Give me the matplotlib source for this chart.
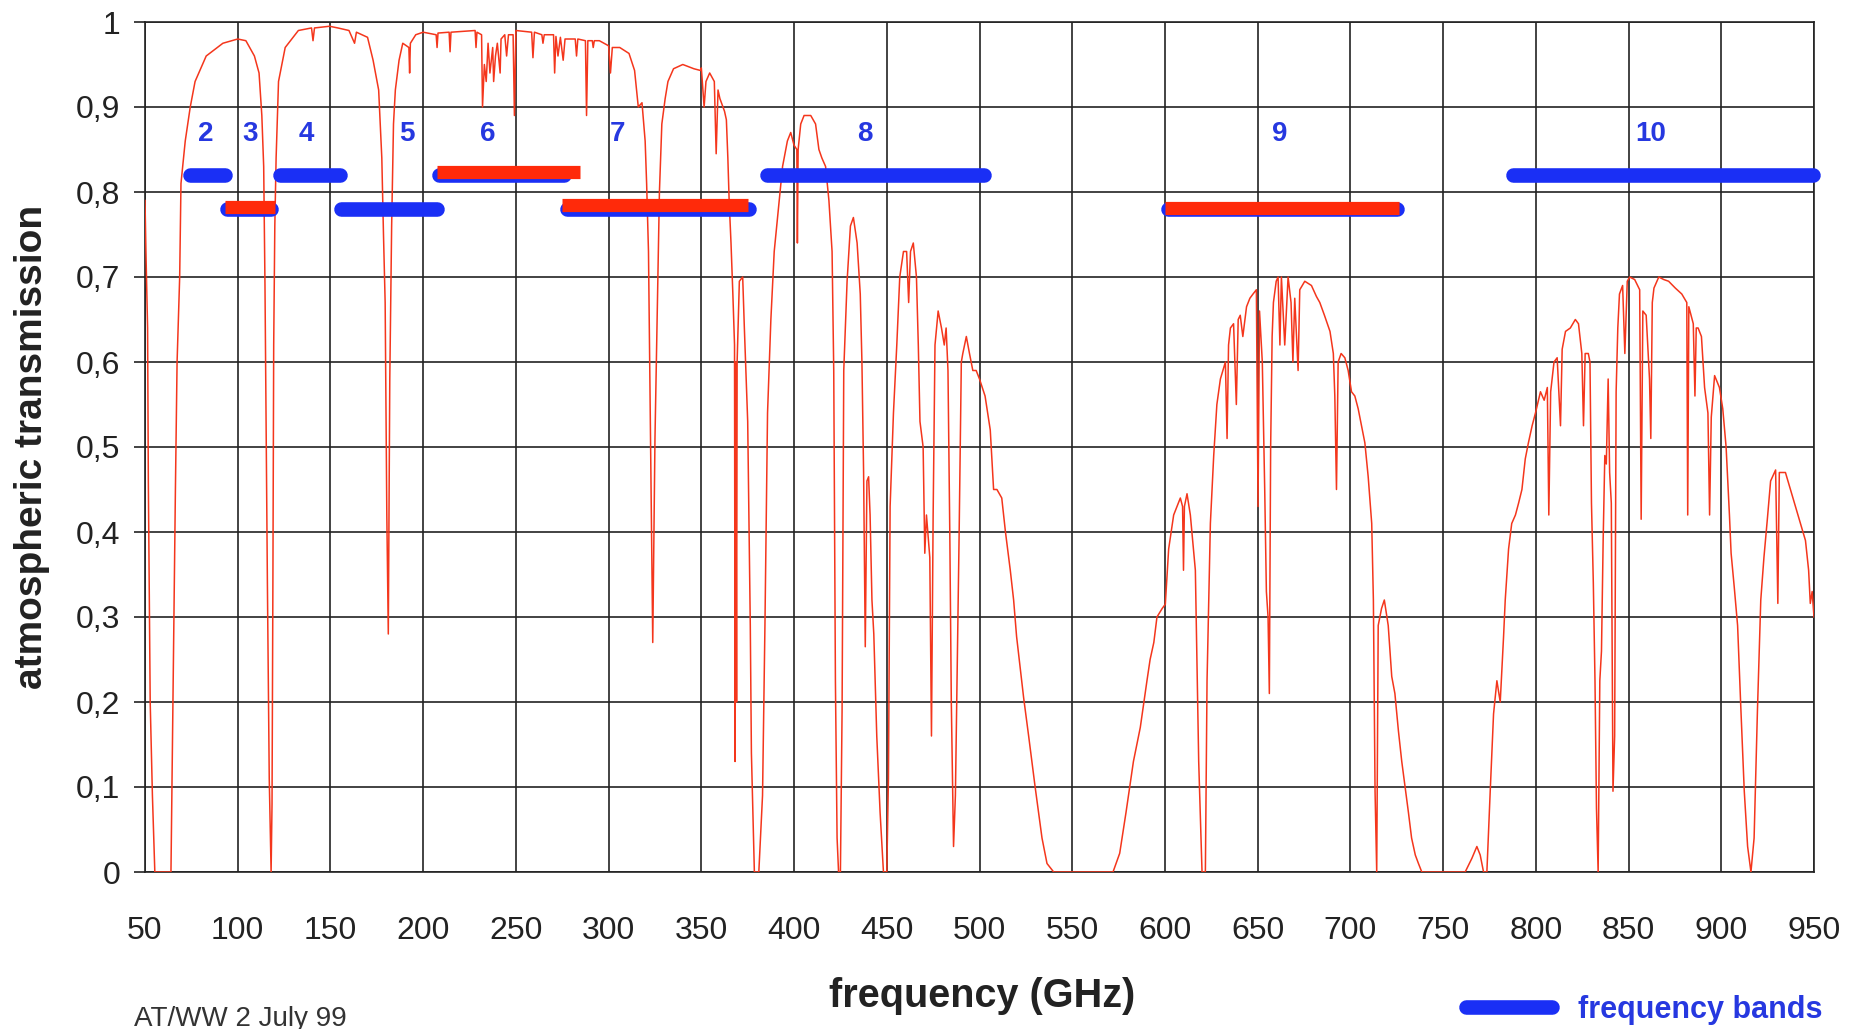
import matplotlib
matplotlib.use("Agg")
import matplotlib.pyplot as plt
from matplotlib.lines import Line2D

plt.rcParams['font.family'] = ['Liberation Sans', 'DejaVu Sans']

# atmospheric transmission curve (GHz, fraction)
freq = [
    50, 50.5, 51.4, 51.8, 52.8, 54.0, 55.3, 64.0, 65.2, 66.4, 67.3, 68.7, 69.4, 71.7,
    74.4, 77.0, 83.0, 92.0, 100, 104.4, 109, 111.5, 113, 114, 114.7, 116, 117, 118,
    118.5, 119, 119.4, 120, 120.7, 122, 125.6, 132.7, 139.8, 140.6, 141.4, 149.5, 154,
    160, 163, 164, 170, 173, 176, 177.7, 178.6, 179.5, 180.4, 181.2, 182, 183, 184,
    185, 187, 189, 192.3, 192.7, 193.1, 196, 200,
    207, 207.5, 208, 214, 214.5, 215, 228, 228.5, 229, 231.5, 232, 233, 234, 235, 236,
    237.5, 238, 239, 240, 241.5, 242, 244, 245, 246, 248.5, 249.2, 250,
    258.5, 259.2, 260, 264, 264.6, 265.3, 270.3, 270.9, 271.6, 272.7, 274, 275.5, 276.5,
    282, 282.7, 283.4, 287.5, 288.1, 288.8, 291.2, 291.7, 292.3, 295, 300, 301, 302,
    306, 311, 314, 316, 318, 319.7, 320.5, 321.5, 322.4, 323.8, 325, 326.4, 327.4,
    328.7, 330.5, 332, 335, 340, 346, 349.5,
    350, 351.5, 352.5, 354.5, 357, 358, 359, 360, 362.5, 363.5, 364.3, 365, 366, 367,
    367.9, 368.2, 368.6, 369, 369.3, 370.5, 372.3, 373.2, 375, 376.4, 377, 378.6, 381,
    383, 384.3, 385.7, 387.5, 389.3, 392, 393.8, 396.4, 398.2, 400, 401.5, 401.8, 402.2,
    403.6, 405.4, 409, 411.6, 413.4, 415, 417, 418.8, 420.5, 421.4, 422.3, 423.2, 424,
    425, 425.9, 426.8, 428.6, 430.4, 432, 434, 435.7, 436.6, 437.5, 438.4, 439.3, 440.2,
    441, 442, 443, 444.6, 446.4, 448.2, 450, 450.9, 451.8, 453.6, 455.4, 457, 459,
    460.7, 461.8, 462.8, 464.3, 466, 467, 467.9, 469.6, 470.5, 471.4, 473.2, 474.1, 475,
    476, 477.7, 479.5, 481, 482, 483, 484, 484.8, 486, 487, 487.9, 489, 490.2, 491,
    492.9, 494.6, 496.4, 498.2, 500,
    503, 505.8, 507.6, 509.4, 512, 514, 516.6, 518.4, 520, 523.8, 526.5, 530, 533.7,
    536.4, 540, 572, 575.6, 579, 583, 586.7, 590.3, 592, 594, 595.7, 598.5, 600.2, 602,
    604.7, 608.3, 609.5, 610, 610.5, 611.9, 613.7, 616.4, 618.2, 620, 621.8, 622.7,
    624.5, 626.3, 628, 629.9, 632.6, 633.5, 634.3, 635.3, 637, 638.5, 639.5, 640.6, 642,
    644, 645.8, 647.5, 649.3, 650.2, 651, 652.5, 653.8, 654.7, 655.6, 656.3, 657, 657.8,
    658.5, 660, 661, 662, 662.8, 664.6, 666.4, 668, 669, 670, 671.8, 672.7, 675.4, 679,
    681.7, 683.5, 686, 689, 690.8, 691.6, 692.5, 693.4, 695, 697, 698.8, 700.6, 702.4,
    704.2, 707.8, 709.6, 711.5, 712.4, 713.3, 714.2, 715, 716.8, 718.3, 720.4, 722.3,
    724, 725.9, 727.7, 729.5, 731.3, 733, 735, 736.7, 738.5, 761.9, 765.5, 768.2, 770,
    771.8, 773.6, 775.4, 777.2, 779, 780.8, 782.6, 783.5, 785.3, 787, 789, 790.7, 792.5,
    794.3, 796, 798, 799.8, 802.5, 804.5, 806.2, 807, 808, 809.8, 811.5, 813.3, 814.2,
    816, 818.6, 821.3, 823, 824.8, 825.7, 826.6, 828.3, 829.2, 830, 831, 831.9, 832.7,
    833.6, 834.5, 835.4, 836.3, 837.2, 838, 839, 839.8, 840.7, 841.6, 842.5, 843.3,
    844.2, 845.1, 846.8, 848, 849.3, 850.6, 853.3, 856, 856.8, 857.7, 859.5, 861.3, 862,
    862.8, 863.7, 866.3, 869, 871.6, 875.2, 878.7, 881.4, 881.9, 882.5, 884.9, 885.8,
    886.5, 887.5, 889.3, 891, 892.8, 893.7, 894.6, 896.4, 899, 900.8, 902.6, 904.4,
    905.3, 907, 908.8, 910.6, 912.4, 914.2, 916, 917.7, 919.5, 921.3, 923, 924.8, 926.6,
    929.3, 930.5, 931.3, 934.6, 937.3, 940, 942.7, 945.4, 947.1, 948, 949, 950,
]
trans = [
    0.79, 0.73, 0.64, 0.46, 0.20, 0.09, 0.0, 0.0, 0.23, 0.45, 0.60, 0.70, 0.81, 0.86,
    0.90, 0.93, 0.96, 0.975, 0.98, 0.978, 0.96, 0.94, 0.89, 0.83, 0.69, 0.34, 0.11, 0.0,
    0.08, 0.36, 0.62, 0.76, 0.84, 0.93, 0.97, 0.99, 0.993, 0.978, 0.993, 0.995, 0.993,
    0.99, 0.975, 0.988, 0.982, 0.955, 0.92, 0.84, 0.75, 0.67, 0.42, 0.28, 0.58, 0.76, 0.88,
    0.92, 0.955, 0.975, 0.97, 0.94, 0.975, 0.985, 0.988,
    0.985, 0.97, 0.987, 0.988, 0.965, 0.988, 0.99, 0.97, 0.988, 0.985, 0.90, 0.95, 0.93,
    0.975, 0.94, 0.97, 0.93, 0.96, 0.975, 0.94, 0.98, 0.985, 0.96, 0.985, 0.985, 0.89, 0.99,
    0.988, 0.958, 0.988, 0.985, 0.975, 0.985, 0.985, 0.94, 0.983, 0.96, 0.982, 0.955, 0.98,
    0.98, 0.96, 0.98, 0.978, 0.89, 0.978, 0.978, 0.97, 0.978, 0.978, 0.972, 0.94, 0.97,
    0.97, 0.963, 0.943, 0.90, 0.905, 0.86, 0.81, 0.73, 0.55, 0.27, 0.51, 0.68, 0.80,
    0.88, 0.91, 0.93, 0.945, 0.95, 0.945, 0.943,
    0.946, 0.90, 0.93, 0.94, 0.93, 0.845, 0.92, 0.91, 0.895, 0.885, 0.84, 0.79, 0.74, 0.68,
    0.62, 0.13, 0.60, 0.20, 0.60, 0.695, 0.70, 0.64, 0.53, 0.29, 0.14, 0.0, 0.0,
    0.09, 0.29, 0.54, 0.65, 0.73, 0.79, 0.83, 0.86, 0.87, 0.855, 0.85, 0.74, 0.85,
    0.88, 0.89, 0.89, 0.88, 0.85, 0.84, 0.83, 0.79, 0.73, 0.59, 0.225, 0.04, 0.0,
    0.0, 0.19, 0.59, 0.695, 0.76, 0.77, 0.74, 0.68, 0.60, 0.47, 0.265, 0.46, 0.465,
    0.42, 0.32, 0.28, 0.16, 0.07, 0.0, 0.0, 0.11, 0.43, 0.54, 0.62, 0.70, 0.73,
    0.73, 0.67, 0.73, 0.74, 0.70, 0.62, 0.53, 0.50, 0.375, 0.42, 0.37, 0.16, 0.42,
    0.62, 0.66, 0.64, 0.62, 0.64, 0.59, 0.395, 0.20, 0.03, 0.09, 0.225, 0.395, 0.60, 0.61,
    0.63, 0.61, 0.59, 0.59, 0.58,
    0.56, 0.52, 0.45, 0.45, 0.44, 0.40, 0.355, 0.32, 0.277, 0.205, 0.16, 0.10, 0.04,
    0.01, 0.0, 0.0, 0.022, 0.07, 0.13, 0.17, 0.225, 0.25, 0.27, 0.30, 0.31, 0.315, 0.38,
    0.42, 0.44, 0.43, 0.355, 0.43, 0.445, 0.42, 0.355, 0.13, 0.0, 0.0, 0.225,
    0.41, 0.49, 0.55, 0.58, 0.60, 0.51, 0.62, 0.64, 0.645, 0.55, 0.65, 0.655, 0.63,
    0.665, 0.675, 0.68, 0.685, 0.43, 0.66, 0.60, 0.45, 0.33, 0.30, 0.21, 0.50, 0.63,
    0.67, 0.695, 0.70, 0.62, 0.70, 0.62, 0.70, 0.67, 0.60, 0.675, 0.59, 0.685, 0.695, 0.69,
    0.677, 0.67, 0.655, 0.636, 0.61, 0.56, 0.45, 0.60, 0.61, 0.605, 0.59, 0.565, 0.56,
    0.545, 0.505, 0.465, 0.41, 0.32, 0.095, 0.0, 0.29, 0.31, 0.32, 0.29, 0.23,
    0.21, 0.166, 0.13, 0.10, 0.07, 0.04, 0.02, 0.01, 0.0, 0.0, 0.016, 0.03, 0.02,
    0.0, 0.0, 0.095, 0.186, 0.225, 0.20, 0.277, 0.32, 0.38, 0.41, 0.42, 0.434, 0.45,
    0.486, 0.505, 0.525, 0.54, 0.565, 0.555, 0.57, 0.42, 0.565, 0.60, 0.605, 0.525, 0.615,
    0.636, 0.64, 0.65, 0.645, 0.61, 0.525, 0.61, 0.61, 0.60, 0.434, 0.34, 0.225, 0.075,
    0.0, 0.225, 0.26, 0.39, 0.49, 0.48, 0.58, 0.47, 0.434, 0.095, 0.16, 0.565,
    0.64, 0.68, 0.69, 0.61, 0.695, 0.70, 0.697, 0.685, 0.415, 0.66, 0.655, 0.58, 0.51,
    0.67, 0.687, 0.70, 0.697, 0.695, 0.687, 0.68, 0.67, 0.42, 0.665, 0.645, 0.56,
    0.64, 0.64, 0.63, 0.57, 0.54, 0.42, 0.535, 0.584, 0.57, 0.545, 0.50, 0.42,
    0.375, 0.335, 0.29, 0.19, 0.095, 0.03, 0.0, 0.04, 0.19, 0.32, 0.37, 0.414, 0.46,
    0.473, 0.316, 0.47, 0.47, 0.45, 0.43, 0.41, 0.39, 0.355, 0.316, 0.33, 0.30,
]

# frequency bands (GHz) and the row each one sits on
band_names = ['2', '3', '4', '5', '6', '7', '8', '9', '10']
band_lo = [74, 94, 123, 155.5, 208.5, 277.5, 385.5, 601.5, 787.5]
band_hi = [93, 118, 155, 207.5, 276, 375.5, 502.5, 725, 949.5]
band_level = [0.82, 0.78, 0.82, 0.78, 0.82, 0.78, 0.82, 0.78, 0.82]
label_freq = [83, 106.5, 137, 191, 235, 305, 438, 662, 862]
label_level = 0.868

# red overlays on some of the bands
red_lo = [93, 207.5, 275, 600]
red_hi = [120, 284.5, 375, 726]
red_level = [0.782, 0.824, 0.785, 0.781]

xticks = list(range(50, 951, 50))
yticks = [0, 0.1, 0.2, 0.3, 0.4, 0.5, 0.6, 0.7, 0.8, 0.9, 1]
ytick_labels = ['0', '0,1', '0,2', '0,3', '0,4', '0,5', '0,6', '0,7', '0,8', '0,9', '1']

W, H = 1866, 1029
BLUE = '#1a2ff5'
RED = '#ff2a0a'
TXT_BLUE = '#2638e0'

fig = plt.figure(figsize=(W / 100, H / 100), dpi=100)
ax = fig.add_axes([145 / W, 1 - 872 / H, (1814 - 145) / W, (872 - 22) / H])

ax.plot(freq, trans, color='#f4361c', lw=1.1, zorder=3)

for lo, hi, lev in zip(band_lo, band_hi, band_level):
    ax.plot([lo, hi], [lev, lev], color=BLUE, lw=10.5, solid_capstyle='round',
            zorder=4, clip_on=False)
for lo, hi, lev in zip(red_lo, red_hi, red_level):
    ax.plot([lo, hi], [lev, lev], color=RED, lw=9.5, solid_capstyle='butt', zorder=5)
for name, f in zip(band_names, label_freq):
    ax.text(f, label_level, name, color=TXT_BLUE, fontsize=20, fontweight='bold',
            ha='center', va='center', zorder=6)

ax.set_xlim(50, 950)
ax.set_ylim(0, 1)
ax.set_xticks(xticks)
ax.set_yticks(yticks)
ax.set_yticklabels(ytick_labels)
ax.grid(True, color='#222222', lw=1.2)
ax.set_axisbelow(True)
for s in ax.spines.values():
    s.set_color('#222222')
    s.set_linewidth(1.2)
ax.tick_params(axis='y', direction='out', length=8, width=1.2, color='#222222',
               pad=10, labelsize=23, labelcolor='#222222')
ax.tick_params(axis='x', direction='out', length=0, pad=32, labelsize=23,
               labelcolor='#222222')

fig.text(32 / W, 1 - 447 / H, 'atmospheric transmission', rotation=90,
         ha='center', va='center', fontsize=28, fontweight='bold', color='#222222')
fig.text(982 / W, 1 - 996 / H, 'frequency (GHz)', ha='center', va='center',
         fontsize=28.5, fontweight='bold', color='#222222')
fig.text(134 / W, 1 - 1019 / H, 'AT/WW 2 July 99', ha='left', va='center',
         fontsize=20, color='#333333')

leg = fig.legend(handles=[Line2D([], [], color=BLUE, lw=10.5, solid_capstyle='round')],
                 labels=['frequency bands'], loc='center left',
                 bbox_to_anchor=(1466 / W, 1 - 1010 / H), frameon=False,
                 borderpad=0, borderaxespad=0, handlelength=2.8, handletextpad=0.85,
                 prop={'weight': 'bold', 'size': 22})
for t in leg.get_texts():
    t.set_color(TXT_BLUE)

fig.savefig('out.png', dpi=100)
